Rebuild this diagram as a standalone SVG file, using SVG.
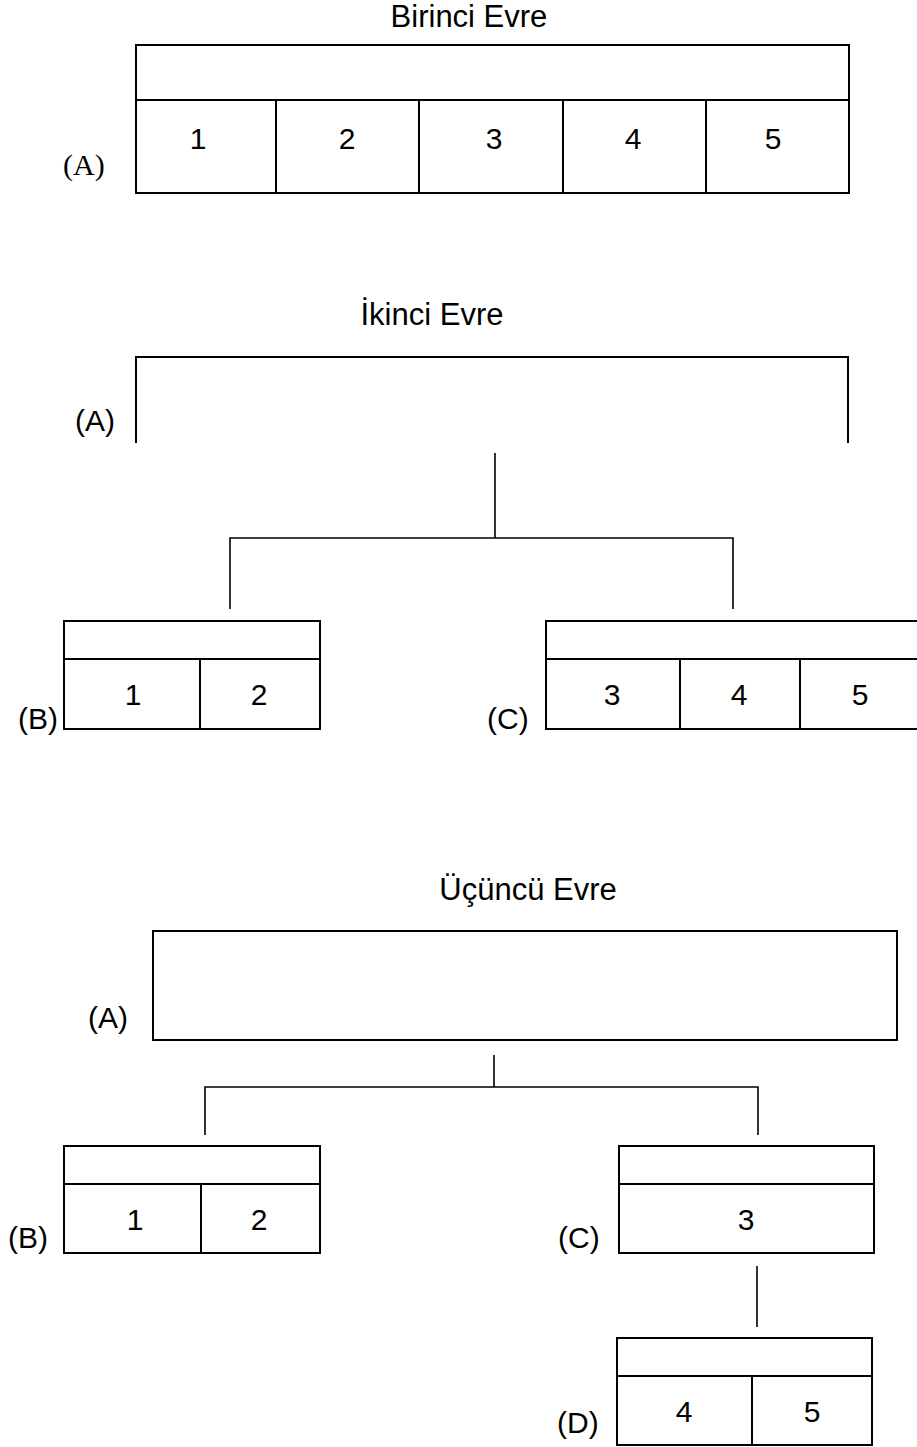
<svg xmlns="http://www.w3.org/2000/svg" width="917" height="1447" viewBox="0 0 917 1447">
<style>
.box{fill:#fff;stroke:#000;stroke-width:2}
.ln{fill:none;stroke:#000;stroke-width:2}
.cn{fill:none;stroke:#000;stroke-width:1.6}
.t{font-family:"Liberation Sans",Arial,sans-serif;font-size:30px;fill:#000}
.d{font-family:"Liberation Sans",Arial,sans-serif;font-size:30px;fill:#000;text-anchor:middle}
.s{font-family:"Liberation Serif","Times New Roman",serif;font-size:30px;fill:#000}
.h{font-family:"Liberation Sans",Arial,sans-serif;font-size:31px;fill:#000;text-anchor:middle}
</style>
<rect width="917" height="1447" fill="#fff"/>
<text class="h" x="469" y="27">Birinci Evre</text>
<text class="h" x="432" y="325">İkinci Evre</text>
<text class="h" x="528" y="900">Üçüncü Evre</text>
<g id="s1-A">
<rect class="box" x="136" y="45" width="713" height="148"/>
<path class="ln" d="M136 100H849M276 100V193M419 100V193M563 100V193M706 100V193"/>
<text class="d" x="198" y="149">1</text>
<text class="d" x="347" y="149">2</text>
<text class="d" x="494" y="149">3</text>
<text class="d" x="633" y="149">4</text>
<text class="d" x="773" y="149">5</text>
<text class="s" x="63" y="175">(A)</text>
</g>
<g id="s2-A">
<path class="ln" d="M136 443V357H848V443"/>
<text class="t" x="75" y="431">(A)</text>
</g>
<g id="s2-B">
<rect class="box" x="64" y="621" width="256" height="108"/>
<path class="ln" d="M64 659H320M200 659V729"/>
<text class="d" x="133" y="705">1</text>
<text class="d" x="259" y="705">2</text>
<text class="t" x="18" y="729">(B)</text>
</g>
<g id="s2-C">
<rect class="box" x="546" y="621" width="374" height="108"/>
<path class="ln" d="M546 659H920M680 659V729M800 659V729"/>
<text class="d" x="612" y="705">3</text>
<text class="d" x="739" y="705">4</text>
<text class="d" x="860" y="705">5</text>
<text class="t" x="487" y="729">(C)</text>
</g>
<g id="s3-A">
<rect class="box" x="153" y="931" width="744" height="109"/>
<text class="t" x="88" y="1028">(A)</text>
</g>
<g id="s3-B">
<rect class="box" x="64" y="1146" width="256" height="107"/>
<path class="ln" d="M64 1184H320M201 1184V1253"/>
<text class="d" x="135" y="1230">1</text>
<text class="d" x="259" y="1230">2</text>
<text class="t" x="8" y="1248">(B)</text>
</g>
<g id="s3-C">
<rect class="box" x="619" y="1146" width="255" height="107"/>
<path class="ln" d="M619 1184H874"/>
<text class="d" x="746" y="1230">3</text>
<text class="t" x="558" y="1248">(C)</text>
</g>
<g id="s3-D">
<rect class="box" x="617" y="1338" width="255" height="107"/>
<path class="ln" d="M617 1376H872M752 1376V1445"/>
<text class="d" x="684" y="1422">4</text>
<text class="d" x="812" y="1422">5</text>
<text class="t" x="557" y="1433">(D)</text>
</g>
<g id="connectors">
<path class="cn" d="M495 453V538M230 609V538H733V609"/>
<path class="cn" d="M494 1055V1087M205 1135V1087H758V1135"/>
<path class="cn" d="M757 1266V1327"/>
</g>
</svg>
